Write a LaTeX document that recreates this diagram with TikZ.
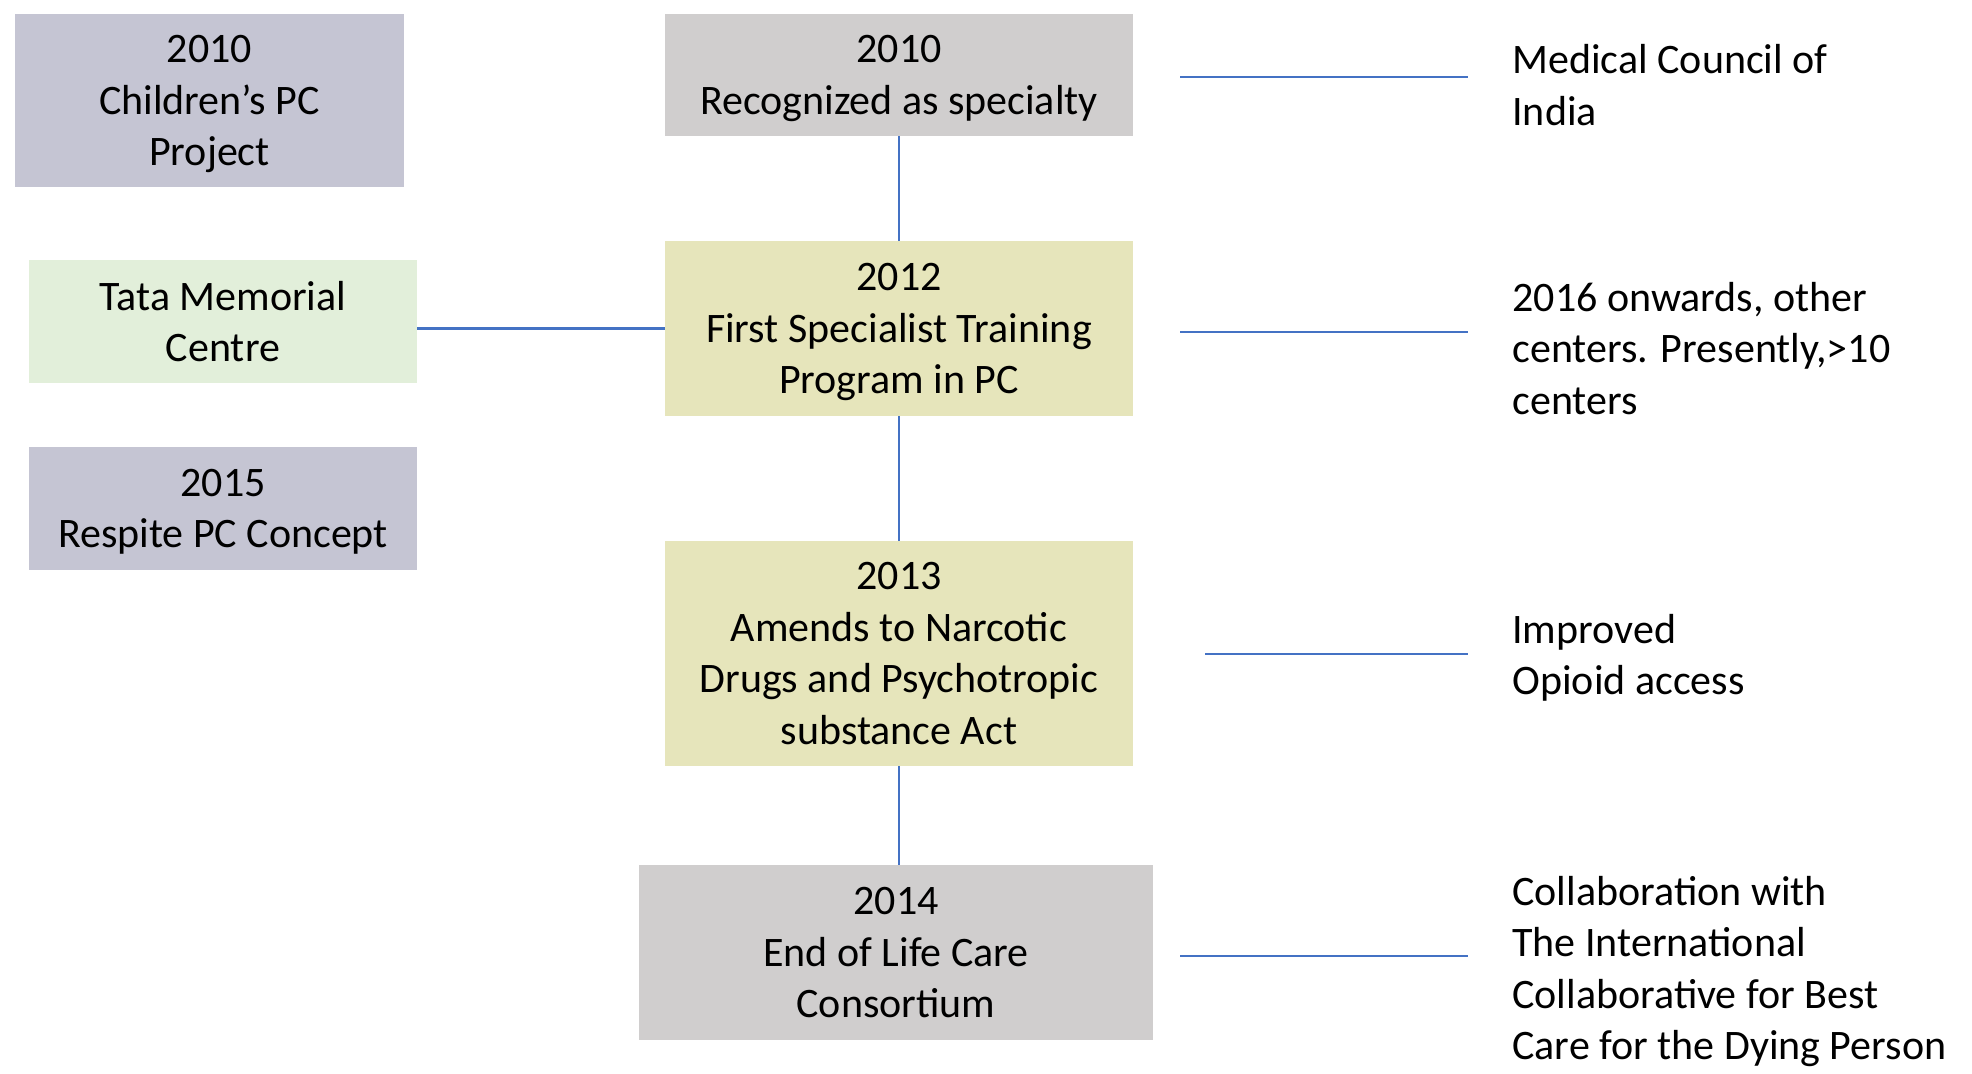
\documentclass[tikz,border=0pt]{standalone}
\usepackage{fontspec}
\setmainfont{Carlito}
\definecolor{lavgray}{HTML}{C5C5D3}
\definecolor{boxgray}{HTML}{D0CECE}
\definecolor{boxyellow}{HTML}{E6E5BB}
\definecolor{boxgreen}{HTML}{E2EFDA}
\definecolor{linkblue}{HTML}{4472C4}
\newcommand{\evfont}{\fontsize{21}{25.75}\selectfont}

\begin{document}
\begin{tikzpicture}[x = 0.5pt, y = -0.5pt,
  event/.style = {inner sep = 0, align = center, text depth = 0pt, font = \evfont},
  note/.style = {inner sep = 0, align = left, anchor = west, text depth = 0pt, font = \evfont},
  link/.style = {linkblue, line width = 1.3pt}]
\useasboundingbox (0,0) rectangle (1972,1073);
% left column
\node[event, fill = lavgray, minimum width = 194.5pt, minimum height = 86.5pt] (kids) at (209.5,100.5) {2010\\Children’s PC\\Project};
\node[event, fill = boxgreen, minimum width = 194pt, minimum height = 61.5pt] (tata) at (223,321.5) {Tata Memorial\\Centre};
\node[event, fill = lavgray, minimum width = 194pt, minimum height = 61.5pt] (respite) at (223,508.5) {2015\\Respite PC Concept};
% timeline
\node[event, fill = boxgray, minimum width = 234pt, minimum height = 61pt] (y2010) at (899,75) {2010\\Recognized as specialty};
\node[event, fill = boxyellow, minimum width = 234pt, minimum height = 87.5pt] (y2012) at (899,328.5) {2012\\First Specialist Training\\Program in PC};
\node[event, fill = boxyellow, minimum width = 234pt, minimum height = 112.5pt] (y2013) at (899,653.5) {2013\\Amends to Narcotic\\Drugs and Psychotropic\\substance Act};
\node[event, fill = boxgray, minimum width = 257pt, minimum height = 87.5pt] (y2014) at (896,952.5) {2014\\End of Life Care\\Consortium};
\draw[link] (y2010) -- (y2012);
\draw[link] (y2012) -- (y2013);
\draw[link] (y2013.south) -- (y2014.north -| y2013.south);
\draw[link] (y2012.west) -- (y2012.west -| tata.east);
% right column
\node[note] (mci) at (1512,85) {Medical Council of\\India};
\node[note] (centers) at (1512,348) {2016 onwards, other\\centers. Presently,>10\\centers};
\node[note] (opioid) at (1512,654.5) {Improved\\Opioid access};
\node[note] (icbc) at (1512,968) {Collaboration with\\The International\\Collaborative for Best\\Care for the Dying Person};
\foreach \name/\xa/\ya in {mci/1180/77, centers/1180/332, opioid/1205/654, icbc/1180/956} {
  \coordinate (\name-a) at (\xa,\ya);
  \coordinate (\name-b) at (1468,\ya);
  \draw[link] (\name-a) -- (\name-b);
}
\end{tikzpicture}
\end{document}
